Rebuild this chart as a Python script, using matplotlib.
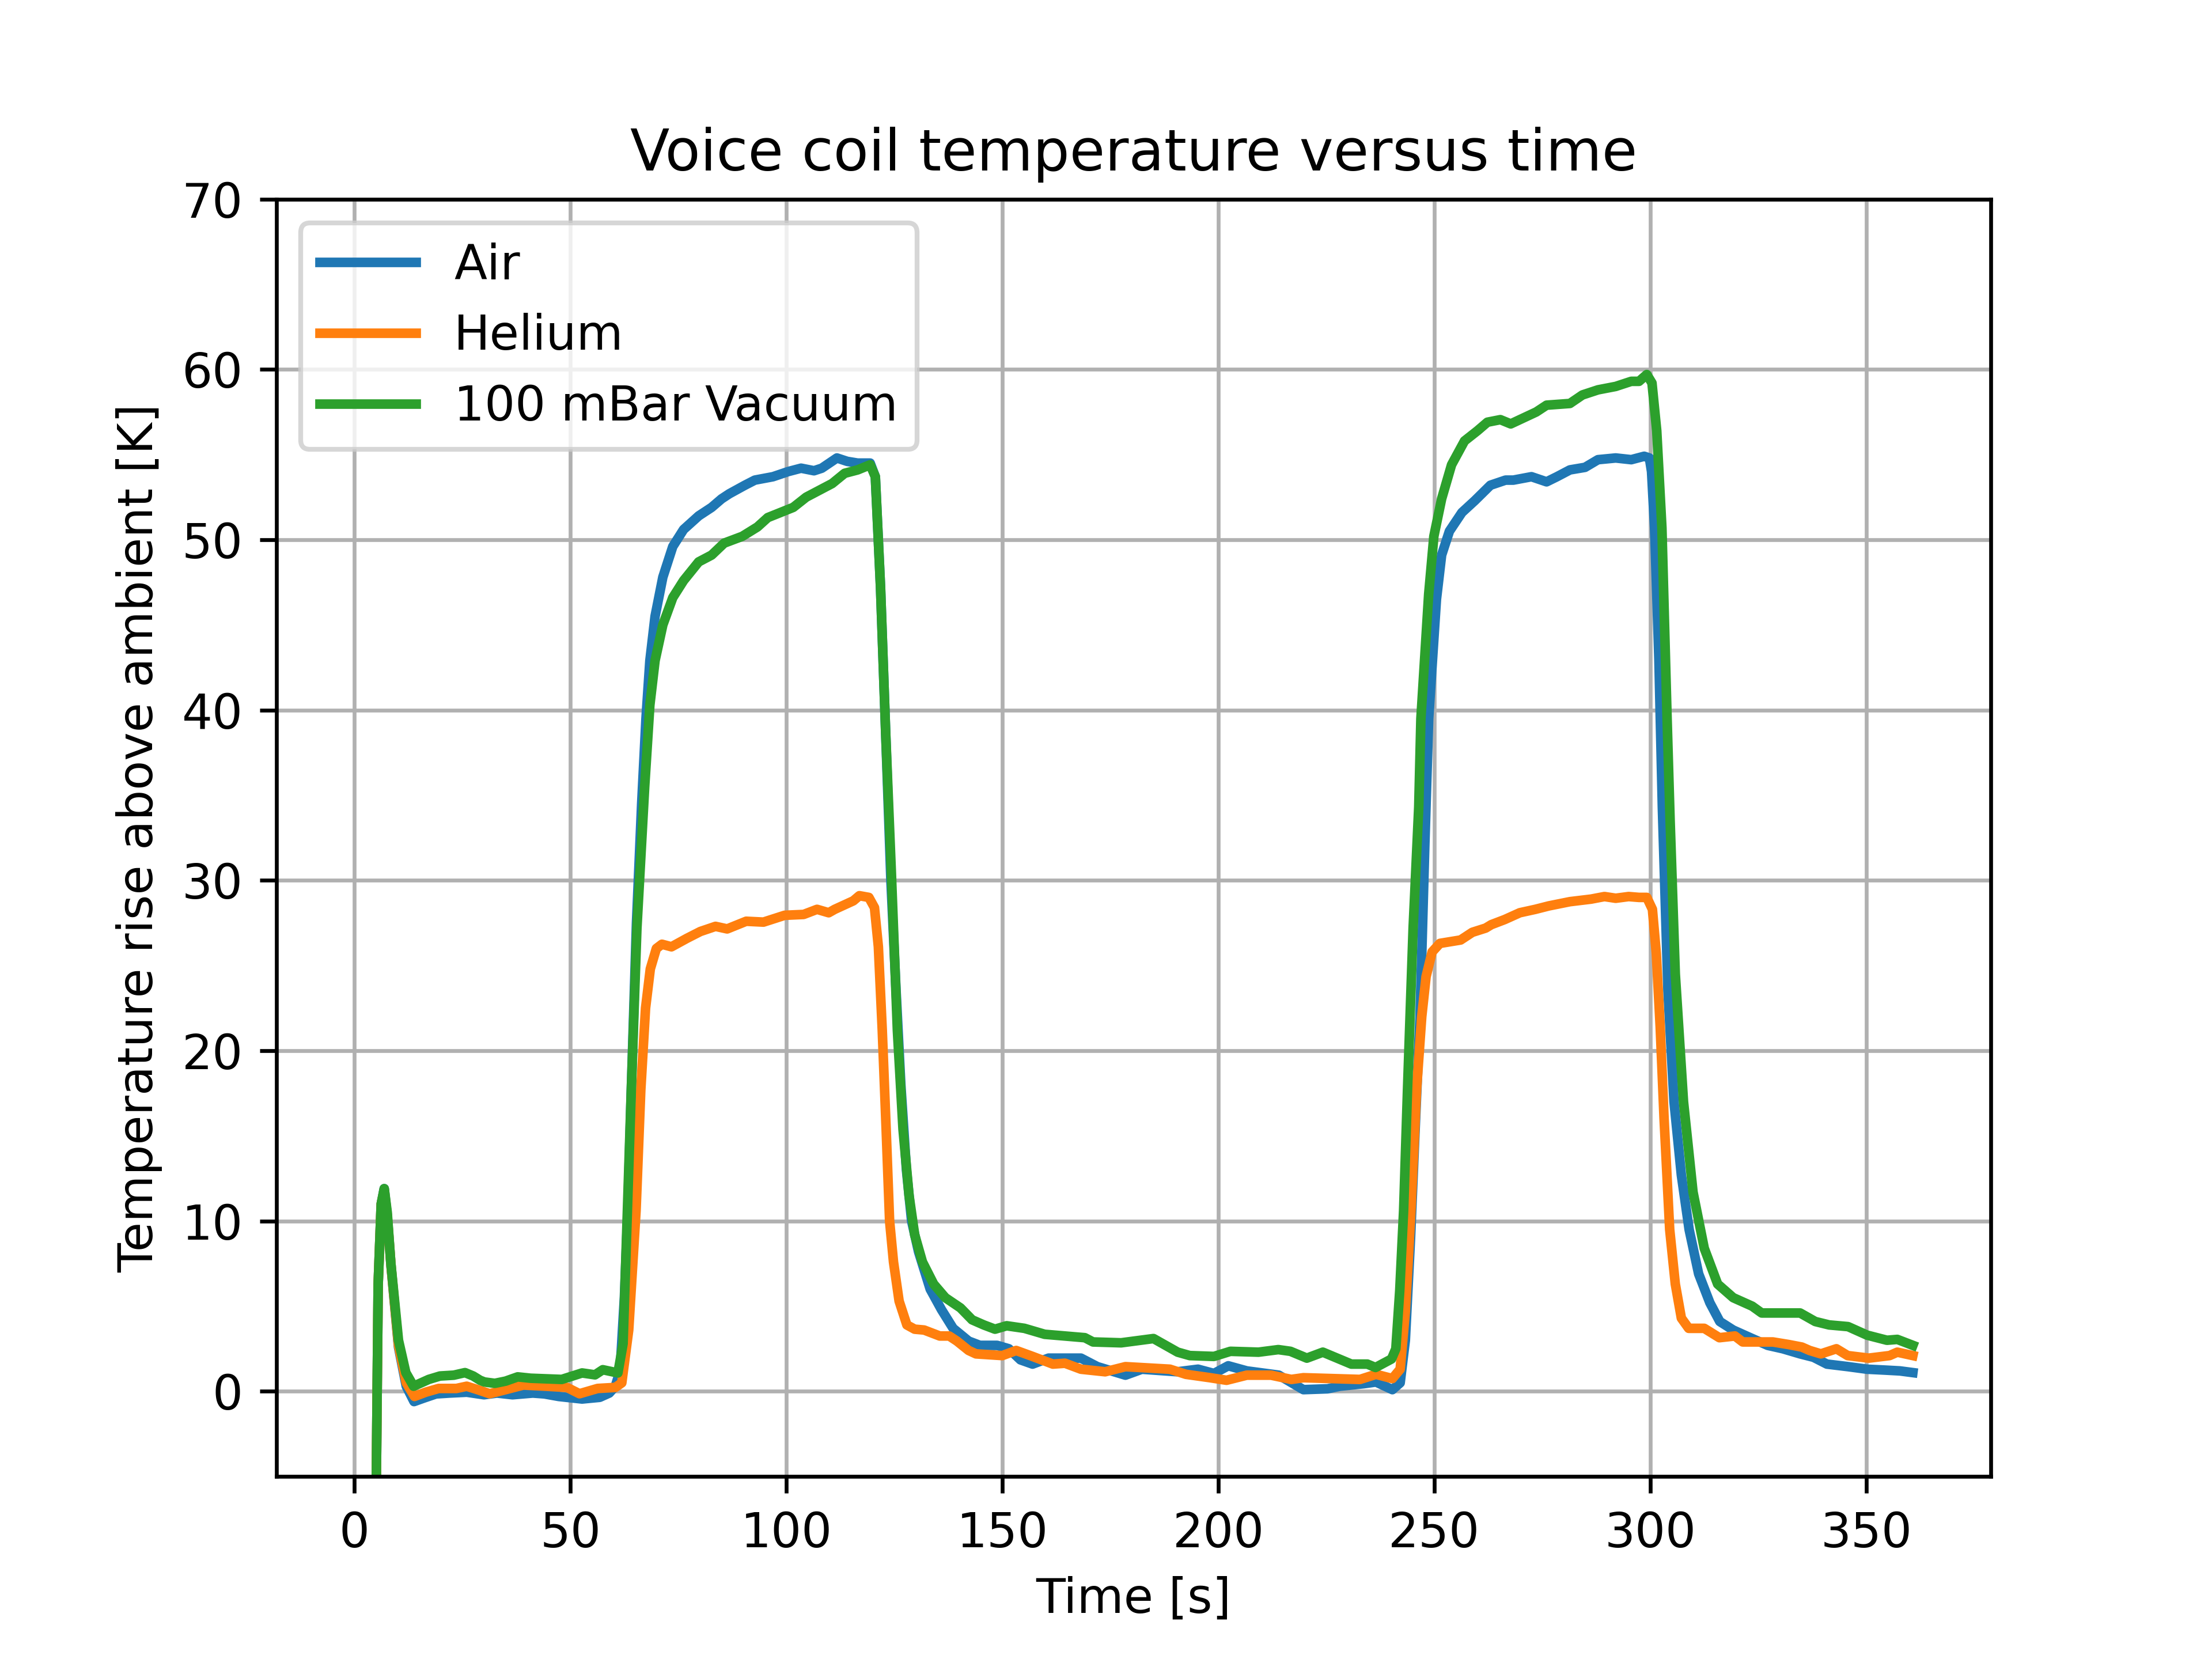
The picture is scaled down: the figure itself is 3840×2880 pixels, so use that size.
import matplotlib

matplotlib.use("Agg")
import matplotlib.pyplot as plt  # noqa: E402

# Time [s] and temperature rise [K], one pair per gas.
air_time = [
    0, 3.0, 5.5, 6.2, 6.9, 7.6, 8.5, 10.2, 12.0, 13.8, 16.0, 18.9, 22.0, 26.0,
    30.0, 33.0, 36.6, 41.3, 44.0, 47.3, 52.7, 56.8, 59.0, 60.4, 61.5, 62.5,
    63.3, 64.1, 65.3, 66.5, 67.5, 68.4, 69.6, 71.4, 73.7, 76.2, 79.7, 82.7,
    85.0, 86.8, 90.4, 92.7, 96.9, 100.4, 103.4, 106.4, 108.2, 111.7, 114.1,
    116.5, 119.4, 120.6, 121.8, 123.0, 124.2, 125.4, 126.5, 127.8, 129.0,
    130.6, 133.3, 135.9, 138.6, 142.2, 144.8, 148.8, 151.5, 154.2, 157.0,
    160.7, 168.2, 172.0, 178.5, 182.3, 190.6, 195.3, 199.0, 202.3, 206.6,
    214.0, 219.7, 225.3, 228.1, 233.7, 236.5, 240.3, 242.1, 243.3, 244.5,
    245.5, 246.7, 247.8, 248.7, 250.5, 251.7, 253.5, 256.4, 259.4, 263.0,
    266.5, 268.3, 272.5, 276.0, 278.4, 281.4, 284.9, 287.9, 292.0, 295.6,
    298.6, 299.8, 300.3, 301.0, 302.0, 302.8, 304.1, 305.5, 307.2, 309.0,
    311.2, 313.8, 316.1, 319.2, 323.6, 327.2, 330.7, 334.7, 337.8, 340.9,
    345.8, 350.2, 354.2, 357.8, 360.8,
]
air_temp = [
    -60, -60, 6.3, 11.0, 11.9, 10.3, 7.3, 2.6, 0.3, -0.6, -0.4, -0.15, -0.1,
    -0.05, -0.2, -0.1, -0.2, -0.1, -0.15, -0.3, -0.45, -0.35, -0.1, 0.3, 1.2,
    5.5, 10.6, 17.7, 27.5, 34.5, 39.5, 42.9, 45.5, 47.8, 49.6, 50.6, 51.4,
    51.9, 52.4, 52.7, 53.2, 53.5, 53.7, 54.0, 54.2, 54.05, 54.2, 54.8, 54.6,
    54.5, 54.5, 53.7, 47.2, 38.6, 30.0, 23.5, 18.0, 13.0, 10.0, 8.2, 6.0,
    4.8, 3.7, 2.95, 2.7, 2.7, 2.5, 1.85, 1.6, 1.95, 1.95, 1.45, 0.95, 1.3,
    1.15, 1.3, 1.05, 1.5, 1.2, 0.95, 0.1, 0.15, 0.3, 0.45, 0.55, 0.1, 0.5,
    3.0, 9.0, 15.0, 22.0, 32.0, 39.5, 46.5, 49.1, 50.5, 51.6, 52.3, 53.2,
    53.5, 53.5, 53.7, 53.4, 53.7, 54.1, 54.25, 54.7, 54.8, 54.7, 54.9, 54.8,
    54.0, 50.7, 43.0, 34.3, 23.5, 17.0, 12.7, 9.5, 6.9, 5.2, 4.1, 3.6, 3.1,
    2.7, 2.5, 2.2, 2.0, 1.6, 1.45, 1.3, 1.25, 1.2, 1.1,
]

helium_time = [
    0, 3.0, 5.5, 6.2, 6.9, 7.6, 8.5, 10.2, 12.0, 13.9, 16.5, 19.5, 23.6,
    26.0, 28.5, 31.3, 35.0, 39.1, 44.4, 49.2, 52.1, 56.3, 60.4, 61.9, 63.5,
    65.2, 66.3, 67.4, 68.5, 69.9, 71.2, 73.4, 77.0, 80.1, 83.6, 86.3, 90.7,
    94.7, 99.6, 104.0, 107.1, 109.8, 111.2, 115.5, 116.9, 119.1, 120.4,
    121.3, 122.2, 123.1, 123.9, 124.8, 126.1, 127.9, 129.7, 131.9, 135.5,
    137.7, 139.5, 142.2, 143.9, 150.0, 153.2, 157.0, 161.7, 164.5, 168.2,
    173.8, 178.5, 188.8, 192.5, 198.1, 201.9, 206.6, 212.2, 216.9, 219.7,
    232.8, 236.5, 240.3, 242.1, 243.3, 244.6, 245.9, 247.1, 248.1, 249.5,
    251.3, 256.1, 258.8, 261.9, 263.2, 266.3, 269.8, 273.4, 276.5, 281.4,
    286.3, 289.4, 292.0, 295.0, 297.4, 299.2, 300.5, 301.4, 302.3, 303.2,
    304.5, 305.8, 307.2, 308.9, 312.5, 316.0, 319.6, 321.4, 328.4, 332.0,
    335.1, 336.9, 339.5, 343.1, 345.7, 350.6, 355.4, 357.2, 360.8,
]
helium_temp = [
    -60, -60, 6.3, 11.0, 11.8, 10.3, 7.3, 2.7, 0.5, -0.3, -0.05, 0.17, 0.17,
    0.3, 0.1, -0.14, 0.1, 0.37, 0.3, 0.23, -0.14, 0.17, 0.23, 0.5, 3.6, 10.6,
    17.7, 22.5, 24.8, 26.0, 26.25, 26.1, 26.6, 27.0, 27.3, 27.15, 27.6,
    27.55, 27.95, 28.0, 28.3, 28.1, 28.3, 28.8, 29.1, 29.0, 28.4, 26.1, 21.2,
    15.4, 10.0, 7.6, 5.3, 3.9, 3.65, 3.6, 3.25, 3.25, 2.95, 2.4, 2.2, 2.1,
    2.4, 2.05, 1.6, 1.65, 1.3, 1.15, 1.45, 1.3, 1.0, 0.8, 0.65, 0.95, 0.95,
    0.7, 0.8, 0.7, 1.0, 0.75, 1.3, 4.7, 10.6, 17.7, 22.0, 24.35, 25.8, 26.3,
    26.5, 26.95, 27.2, 27.4, 27.7, 28.1, 28.3, 28.5, 28.75, 28.9, 29.05,
    28.95, 29.05, 29.0, 29.0, 28.3, 25.7, 21.4, 16.0, 9.5, 6.3, 4.3, 3.7,
    3.7, 3.15, 3.25, 2.9, 2.9, 2.75, 2.6, 2.4, 2.2, 2.5, 2.1, 1.95, 2.1, 2.3,
    2.1,
]

vacuum_time = [
    0, 3.0, 5.5, 6.2, 6.9, 7.6, 8.4, 10.2, 11.9, 13.7, 17.2, 19.8, 23.0,
    25.6, 27.5, 29.1, 30.1, 32.5, 35.0, 37.8, 40.8, 48.0, 52.7, 55.7, 57.5,
    61.0, 62.2, 63.2, 64.1, 65.4, 67.2, 68.4, 69.6, 71.4, 73.7, 76.2, 79.7,
    82.7, 85.6, 89.8, 93.3, 95.7, 101.6, 104.6, 110.6, 113.5, 116.5, 119.4,
    120.6, 121.8, 123.0, 124.3, 125.7, 127.0, 128.4, 129.7, 131.5, 134.1,
    136.8, 140.3, 143.0, 145.7, 148.3, 151.0, 155.1, 159.8, 169.1, 171.0,
    177.5, 185.0, 190.6, 193.4, 199.0, 202.8, 209.3, 213.9, 216.7, 220.5,
    224.2, 230.8, 234.5, 236.4, 240.1, 241.1, 242.0, 242.9, 243.8, 245.1,
    246.4, 246.9, 248.7, 249.9, 251.7, 254.0, 257.0, 260.0, 262.3, 265.3,
    267.7, 273.6, 276.0, 281.4, 284.3, 287.9, 292.0, 295.6, 297.4, 299.2,
    300.4, 301.5, 302.7, 303.9, 304.6, 305.8, 307.7, 309.9, 312.5, 315.6,
    319.2, 323.6, 325.8, 330.3, 334.7, 338.2, 341.4, 345.8, 350.2, 354.8,
    357.2, 360.8,
]
vacuum_temp = [
    -60, -60, 6.3, 11.0, 11.9, 10.5, 7.6, 3.0, 1.1, 0.3, 0.7, 0.9, 0.95,
    1.1, 0.9, 0.65, 0.55, 0.47, 0.6, 0.85, 0.77, 0.7, 1.08, 0.97, 1.27, 1.08,
    2.8, 10.6, 17.7, 27.2, 35.5, 40.3, 42.9, 45.0, 46.6, 47.6, 48.7, 49.1,
    49.8, 50.2, 50.75, 51.3, 51.9, 52.5, 53.3, 53.9, 54.1, 54.4, 53.7, 47.2,
    38.6, 30.5, 21.2, 15.4, 11.5, 9.2, 7.6, 6.3, 5.5, 4.9, 4.2, 3.9, 3.65,
    3.85, 3.7, 3.35, 3.15, 2.9, 2.85, 3.1, 2.3, 2.1, 2.05, 2.35, 2.3, 2.45,
    2.35, 1.95, 2.3, 1.6, 1.6, 1.4, 1.9, 2.5, 5.9, 10.6, 17.7, 27.2, 34.3,
    39.5, 46.8, 50.2, 52.4, 54.4, 55.8, 56.4, 56.9, 57.05, 56.8, 57.5, 57.9,
    58.0, 58.5, 58.8, 59.0, 59.3, 59.3, 59.7, 59.2, 56.4, 50.7, 39.5, 33.5,
    24.5, 17.0, 11.7, 8.4, 6.3, 5.5, 5.0, 4.6, 4.6, 4.6, 4.1, 3.9, 3.8, 3.3,
    3.0, 3.05, 2.7,
]

series_labels = ["Air", "Helium", "100 mBar Vacuum"]


def main() -> None:
    fig, ax = plt.subplots(figsize=(6.4, 4.8))

    series = [
        (air_time, air_temp),
        (helium_time, helium_temp),
        (vacuum_time, vacuum_temp),
    ]
    for (t, temp), label in zip(series, series_labels):
        ax.plot(t, temp, linewidth=2, label=label)

    ax.set_ylim(-5, 70)
    ax.set_title("Voice coil temperature versus time")
    ax.set_xlabel("Time [s]")
    ax.set_ylabel("Temperature rise above ambient [K]")
    ax.grid(True)
    ax.legend(loc="upper left")

    fig.savefig("out.png", dpi=600)
    plt.close(fig)


if __name__ == "__main__":
    main()
